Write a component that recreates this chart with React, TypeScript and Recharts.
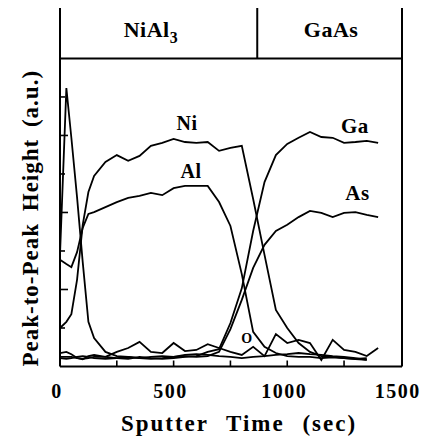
import React from 'react';
import { LineChart, Line, XAxis, YAxis, ReferenceLine, ReferenceDot, Label } from 'recharts';

const FONT = "'Liberation Serif', 'DejaVu Serif', serif";

// Sputter time (sec)
const times = [0, 28, 50, 75, 100, 125, 150, 200, 250, 300, 350, 400, 450, 500, 550, 600, 650, 700, 750, 800, 850, 900, 950, 1000, 1050, 1100, 1150, 1200, 1250, 1300, 1350, 1400];

// Peak-to-peak heights (a.u.)
const niValues = [1.0, 1.16, 1.36, 2.25, 3.68, 4.53, 4.95, 5.31, 5.49, 5.34, 5.47, 5.73, 5.81, 5.91, 5.83, 5.81, 5.83, 5.6, 5.68, 5.73, 4.35, 2.9, 1.47, 1.0, 0.61, 0.38, 0.27, 0.25, 0.22, 0.19, 0.17, null];
const alValues = [2.77, 2.66, 2.58, 2.97, 3.6, 3.96, 4.01, 4.14, 4.27, 4.38, 4.43, 4.51, 4.45, 4.63, 4.69, 4.69, 4.69, 4.27, 3.65, 2.4, 0.9, 0.51, 0.35, 0.27, 0.25, 0.25, 0.22, 0.24, 0.22, 0.2, 0.22, null];
const gaValues = [0.25, 0.25, 0.25, 0.22, 0.2, 0.22, 0.25, 0.25, 0.22, 0.2, 0.25, 0.22, 0.2, 0.22, 0.25, 0.27, 0.38, 0.45, 1.13, 2.03, 3.52, 4.79, 5.49, 5.78, 5.94, 6.09, 5.96, 5.94, 5.81, 5.83, 5.86, 5.81];
const asValues = [0.22, 0.2, 0.22, 0.25, 0.27, 0.25, 0.22, 0.2, 0.22, 0.25, 0.22, 0.2, 0.22, 0.25, 0.27, 0.25, 0.27, 0.38, 0.97, 1.73, 2.56, 3.16, 3.52, 3.68, 3.88, 4.04, 3.99, 3.88, 3.99, 4.01, 3.94, 3.88];
const cValues = [2.9, 7.23, 5.94, 4.4, 2.71, 1.16, 0.74, 0.38, 0.27, 0.25, 0.22, 0.25, 0.27, 0.25, 0.3, 0.32, 0.3, 0.27, 0.25, 0.22, 0.25, 0.27, 0.3, 0.32, 0.35, 0.32, 0.3, 0.27, 0.25, 0.22, 0.17, null];
const oValues = [0.35, 0.38, 0.32, 0.22, 0.19, 0.27, 0.3, 0.25, 0.38, 0.48, 0.64, 0.38, 0.35, 0.61, 0.4, 0.43, 0.58, 0.48, 0.38, 0.3, 0.51, 0.27, 0.84, 0.61, 0.69, 0.61, 0.17, 0.69, 0.43, 0.38, 0.27, 0.48];

const xTicks = [0, 250, 500, 750, 1000, 1250, 1500];
const yTicks = [0, 1, 2, 3, 4, 5, 6, 7, 8];
const X_MAX = 1505;
const Y_MAX = 9.31;
const BAND_Y = 8;
const BOUNDARY_T = 868;

// series name labels: [text, t, v, font size]
const seriesLabels: [string, number, number, number][] = [
  ['Ni', 559, 6.14, 20],
  ['Al', 577, 4.9, 20],
  ['Ga', 1298, 6.06, 21],
  ['As', 1309, 4.32, 21],
  ['O', 823, 0.61, 14],
];

const data = times.map((t, i) => ({
  t,
  ni: niValues[i],
  al: alValues[i],
  ga: gaValues[i],
  as: asValues[i],
  c: cValues[i],
  o: oValues[i],
}));

const txtStyle = (size: number, ls: number, ws = 0): React.CSSProperties => ({
  fontFamily: FONT,
  fontWeight: 700,
  fontSize: size,
  letterSpacing: ls,
  wordSpacing: ws,
  fill: '#000',
});

const XTick = (props: any) => {
  const { x, y, payload } = props;
  const v = payload.value;
  return (
    <g>
      {v > 0 && v < 1500 && <line x1={x} y1={y} x2={x} y2={y - 6} stroke="#000" strokeWidth={1.6} />}
      {v % 500 === 0 && (
        <text x={x - 3} y={y + 31} textAnchor="middle" style={txtStyle(20, 1.5)}>
          {v}
        </text>
      )}
    </g>
  );
};

const YTick = (props: any) => {
  const { x, y, payload } = props;
  const v = payload.value;
  if (v <= 0 || v >= 8) return <g />;
  const len = v % 2 === 0 ? 8 : 5;
  return <line x1={x} y1={y} x2={x + len} y2={y} stroke="#000" strokeWidth={1.6} />;
};

const textLabel = (txt: string, size: number, sub?: string) => (props: any) => {
  const vb = props.viewBox || {};
  const cx = (vb.x ?? 0) + (vb.width ?? 0) / 2;
  const cy = (vb.y ?? 0) + (vb.height ?? 0) / 2;
  return (
    <text x={cx} y={cy} textAnchor="middle" style={txtStyle(size, 0.5)}>
      {txt}
      {sub ? (
        <tspan dy={6} style={{ fontSize: size * 0.72 }}>
          {sub}
        </tspan>
      ) : null}
    </text>
  );
};

const XTitle = (props: any) => {
  const vb = props.viewBox || {};
  const cx = vb.x + vb.width / 2 + 8;
  const y = vb.y + 64.5;
  return (
    <text x={cx} y={y} textAnchor="middle" style={txtStyle(23, 2, 10)}>
      Sputter Time (sec)
    </text>
  );
};

const YTitle = (props: any) => {
  const vb = props.viewBox || {};
  const x = vb.x + vb.width - 22;
  const y = vb.y + vb.height / 2 + 31;
  return (
    <text x={x} y={y} transform={`rotate(-90, ${x}, ${y})`} textAnchor="middle" style={txtStyle(23, 1, 5)}>
      Peak-to-Peak Height (a.u.)
    </text>
  );
};

const lineProps = {
  type: 'linear' as const,
  stroke: '#000',
  strokeWidth: 1.8,
  dot: false,
  isAnimationActive: false,
  connectNulls: false,
  activeDot: false,
};

export default function App() {
  return (
    <div style={{ position: 'absolute', left: 0, top: 0, width: 427, height: 439, background: '#fff' }}>
      <LineChart width={427} height={439} data={data} margin={{ top: 8, right: 25, bottom: 0.5, left: 0 }}>
        <XAxis
          dataKey="t"
          type="number"
          domain={[0, X_MAX]}
          ticks={xTicks}
          interval={0}
          height={72}
          tickSize={0}
          tickMargin={0}
          tickLine={false}
          tick={<XTick />}
          axisLine={{ stroke: '#000', strokeWidth: 2 }}
        >
          <Label content={<XTitle />} />
        </XAxis>
        <YAxis
          type="number"
          domain={[0, Y_MAX]}
          ticks={yTicks}
          interval={0}
          width={60}
          tickSize={0}
          tickMargin={0}
          tickLine={false}
          tick={<YTick />}
          axisLine={{ stroke: '#000', strokeWidth: 2 }}
        >
          <Label content={<YTitle />} />
        </YAxis>
        <ReferenceLine x={X_MAX} stroke="#000" strokeWidth={2} />
        <ReferenceLine y={BAND_Y} stroke="#000" strokeWidth={2} />
        <ReferenceLine segment={[{ x: BOUNDARY_T, y: BAND_Y }, { x: BOUNDARY_T, y: Y_MAX }]} stroke="#000" strokeWidth={2} />
        <Line dataKey="c" {...lineProps} />
        <Line dataKey="o" {...lineProps} />
        <Line dataKey="ni" {...lineProps} />
        <Line dataKey="al" {...lineProps} />
        <Line dataKey="ga" {...lineProps} />
        <Line dataKey="as" {...lineProps} />
        <ReferenceDot x={400} y={8.56} r={0} fill="none" stroke="none" label={textLabel('NiAl', 22, '3')} />
        <ReferenceDot x={1193} y={8.56} r={0} fill="none" stroke="none" label={textLabel('GaAs', 22)} />
        {seriesLabels.map(([txt, t, v, size]) => (
          <ReferenceDot key={txt} x={t} y={v} r={0} fill="none" stroke="none" label={textLabel(txt, size)} />
        ))}
      </LineChart>
    </div>
  );
}
